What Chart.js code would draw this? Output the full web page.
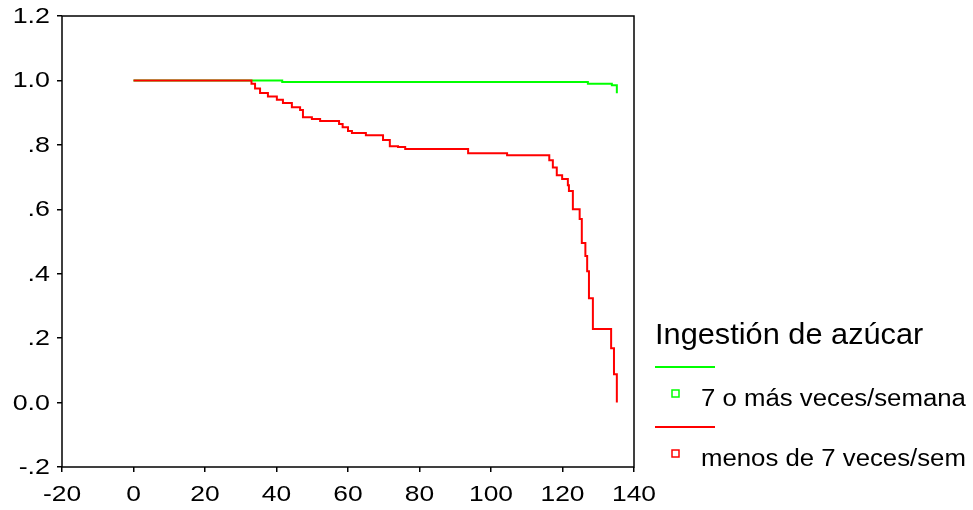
<!DOCTYPE html>
<html>
<head>
<meta charset="utf-8">
<script src="https://cdn.jsdelivr.net/npm/chart.js@4.4.0/dist/chart.umd.min.js"></script>
<style>
  body { margin: 0; background: #fff; }
  canvas { display: block; }
</style>
</head>
<body>
<canvas id="survChart" width="973" height="510"></canvas>
<script>
// survival curves: time (x) and cumulative survival (y) after each step
const legendTitle = "Ingestión de azúcar";
const seriesNames = ["7 o más veces/semana", "menos de 7 veces/sem"];

const greenTimes = [0, 41.6, 127.1, 133.8, 135.2];
const greenSurv  = [1.0, 0.995, 0.99, 0.985, 0.96];

const redTimes = [0, 32, 33, 34, 35.4, 37.6, 40.1, 41.8, 44.3, 46.6, 47.4, 49.9, 52.2,
  57.5, 58.5, 60, 61.1, 65, 69.8, 71.7, 74, 76, 93.6, 104.5, 116.3, 117.3, 118.4,
  119.9, 121.5, 121.8, 122.9, 124.8, 125.4, 126.4, 126.9, 127.4, 128.5, 133.6, 134.4, 135.2];
const redSurv = [1.0, 1.0, 0.99, 0.975, 0.961, 0.95, 0.94, 0.93, 0.917, 0.908, 0.886, 0.88, 0.874,
  0.865, 0.855, 0.843, 0.837, 0.83, 0.815, 0.796, 0.793, 0.787, 0.774, 0.768, 0.752, 0.73, 0.706,
  0.694, 0.675, 0.657, 0.6, 0.57, 0.495, 0.455, 0.408, 0.324, 0.228, 0.169, 0.088, 0.0];

const xTickValues = [-20, 0, 20, 40, 60, 80, 100, 120, 140];
const xTickLabels = ["-20", "0", "20", "40", "60", "80", "100", "120", "140"];
const yTickValues = [-0.2, 0, 0.2, 0.4, 0.6, 0.8, 1.0, 1.2];
const yTickLabels = ["-.2", "0.0", ".2", ".4", ".6", ".8", "1.0", "1.2"];

function toPoints(xs, ys) {
  return xs.map((x, i) => ({ x: x, y: ys[i] }));
}

const FONT = "'Liberation Sans', Arial, sans-serif";

// the original text is a bit wider than Arial, so it is drawn stretched
function wideText(ctx, txt, x, y, size, sx, align) {
  ctx.save();
  ctx.translate(x, y);
  ctx.scale(sx, 1);
  ctx.font = size + "px " + FONT;
  ctx.textAlign = align;
  ctx.fillText(txt, 0, 0);
  ctx.restore();
}

// frame round the plot, tick labels and the legend on the right
const framePlugin = {
  id: "frame",
  afterDraw(chart) {
    const ctx = chart.ctx;
    const a = chart.chartArea;
    ctx.save();
    ctx.strokeStyle = "#000";
    ctx.lineWidth = 1.5;
    ctx.strokeRect(a.left, a.top, a.right - a.left, a.bottom - a.top);

    ctx.fillStyle = "#000";
    ctx.textBaseline = "middle";
    yTickValues.forEach((v, i) => {
      wideText(ctx, yTickLabels[i], 50, chart.scales.y.getPixelForValue(v) + 1, 22, 1.22, "right");
    });
    ctx.textBaseline = "alphabetic";
    xTickValues.forEach((v, i) => {
      wideText(ctx, xTickLabels[i], chart.scales.x.getPixelForValue(v), 501, 22, 1.2, "center");
    });

    wideText(ctx, legendTitle, 655, 344, 29, 1.06, "left");

    const sets = [chart.data.datasets[1], chart.data.datasets[0]];
    sets.forEach((ds, i) => {
      const y0 = 367 + i * 60;
      ctx.strokeStyle = ds.borderColor;
      ctx.lineWidth = 2;
      ctx.beginPath();
      ctx.moveTo(655, y0);
      ctx.lineTo(715, y0);
      ctx.stroke();
      ctx.lineWidth = 1.5;
      ctx.strokeRect(672, y0 + 23, 7, 7);
      ctx.fillStyle = "#000";
      wideText(ctx, ds.label, 701, y0 + 39, 23, 1.12, "left");
    });
    ctx.restore();
  }
};

new Chart(document.getElementById("survChart").getContext("2d"), {
  type: "line",
  data: {
    datasets: [
      {
        label: seriesNames[1],
        data: toPoints(redTimes, redSurv),
        borderColor: "#ff0000",
        borderWidth: 2,
        stepped: true,
        pointRadius: 0,
        fill: false,
        order: 0
      },
      {
        label: seriesNames[0],
        data: toPoints(greenTimes, greenSurv),
        borderColor: "#00ff00",
        borderWidth: 2,
        stepped: true,
        pointRadius: 0,
        fill: false,
        order: 1
      }
    ]
  },
  options: {
    responsive: false,
    animation: false,
    layout: { padding: { left: 0, top: 16, right: 339, bottom: 0 } },
    plugins: {
      legend: { display: false },
      tooltip: { enabled: false }
    },
    scales: {
      x: {
        type: "linear",
        min: -20,
        max: 140,
        afterBuildTicks: s => { s.ticks = xTickValues.map(v => ({ value: v })); },
        afterFit: s => { s.height = 43; },
        border: { display: false },
        grid: { drawOnChartArea: false, drawTicks: true, tickLength: 5, color: "#000", lineWidth: 1.5 },
        ticks: { display: false }
      },
      y: {
        type: "linear",
        min: -0.2,
        max: 1.2,
        afterBuildTicks: s => { s.ticks = yTickValues.map(v => ({ value: v })); },
        afterFit: s => { s.width = 62; },
        border: { display: false },
        grid: { drawOnChartArea: false, drawTicks: true, tickLength: 5, color: "#000", lineWidth: 1.5 },
        ticks: { display: false }
      }
    }
  },
  plugins: [framePlugin]
});
</script>
</body>
</html>
